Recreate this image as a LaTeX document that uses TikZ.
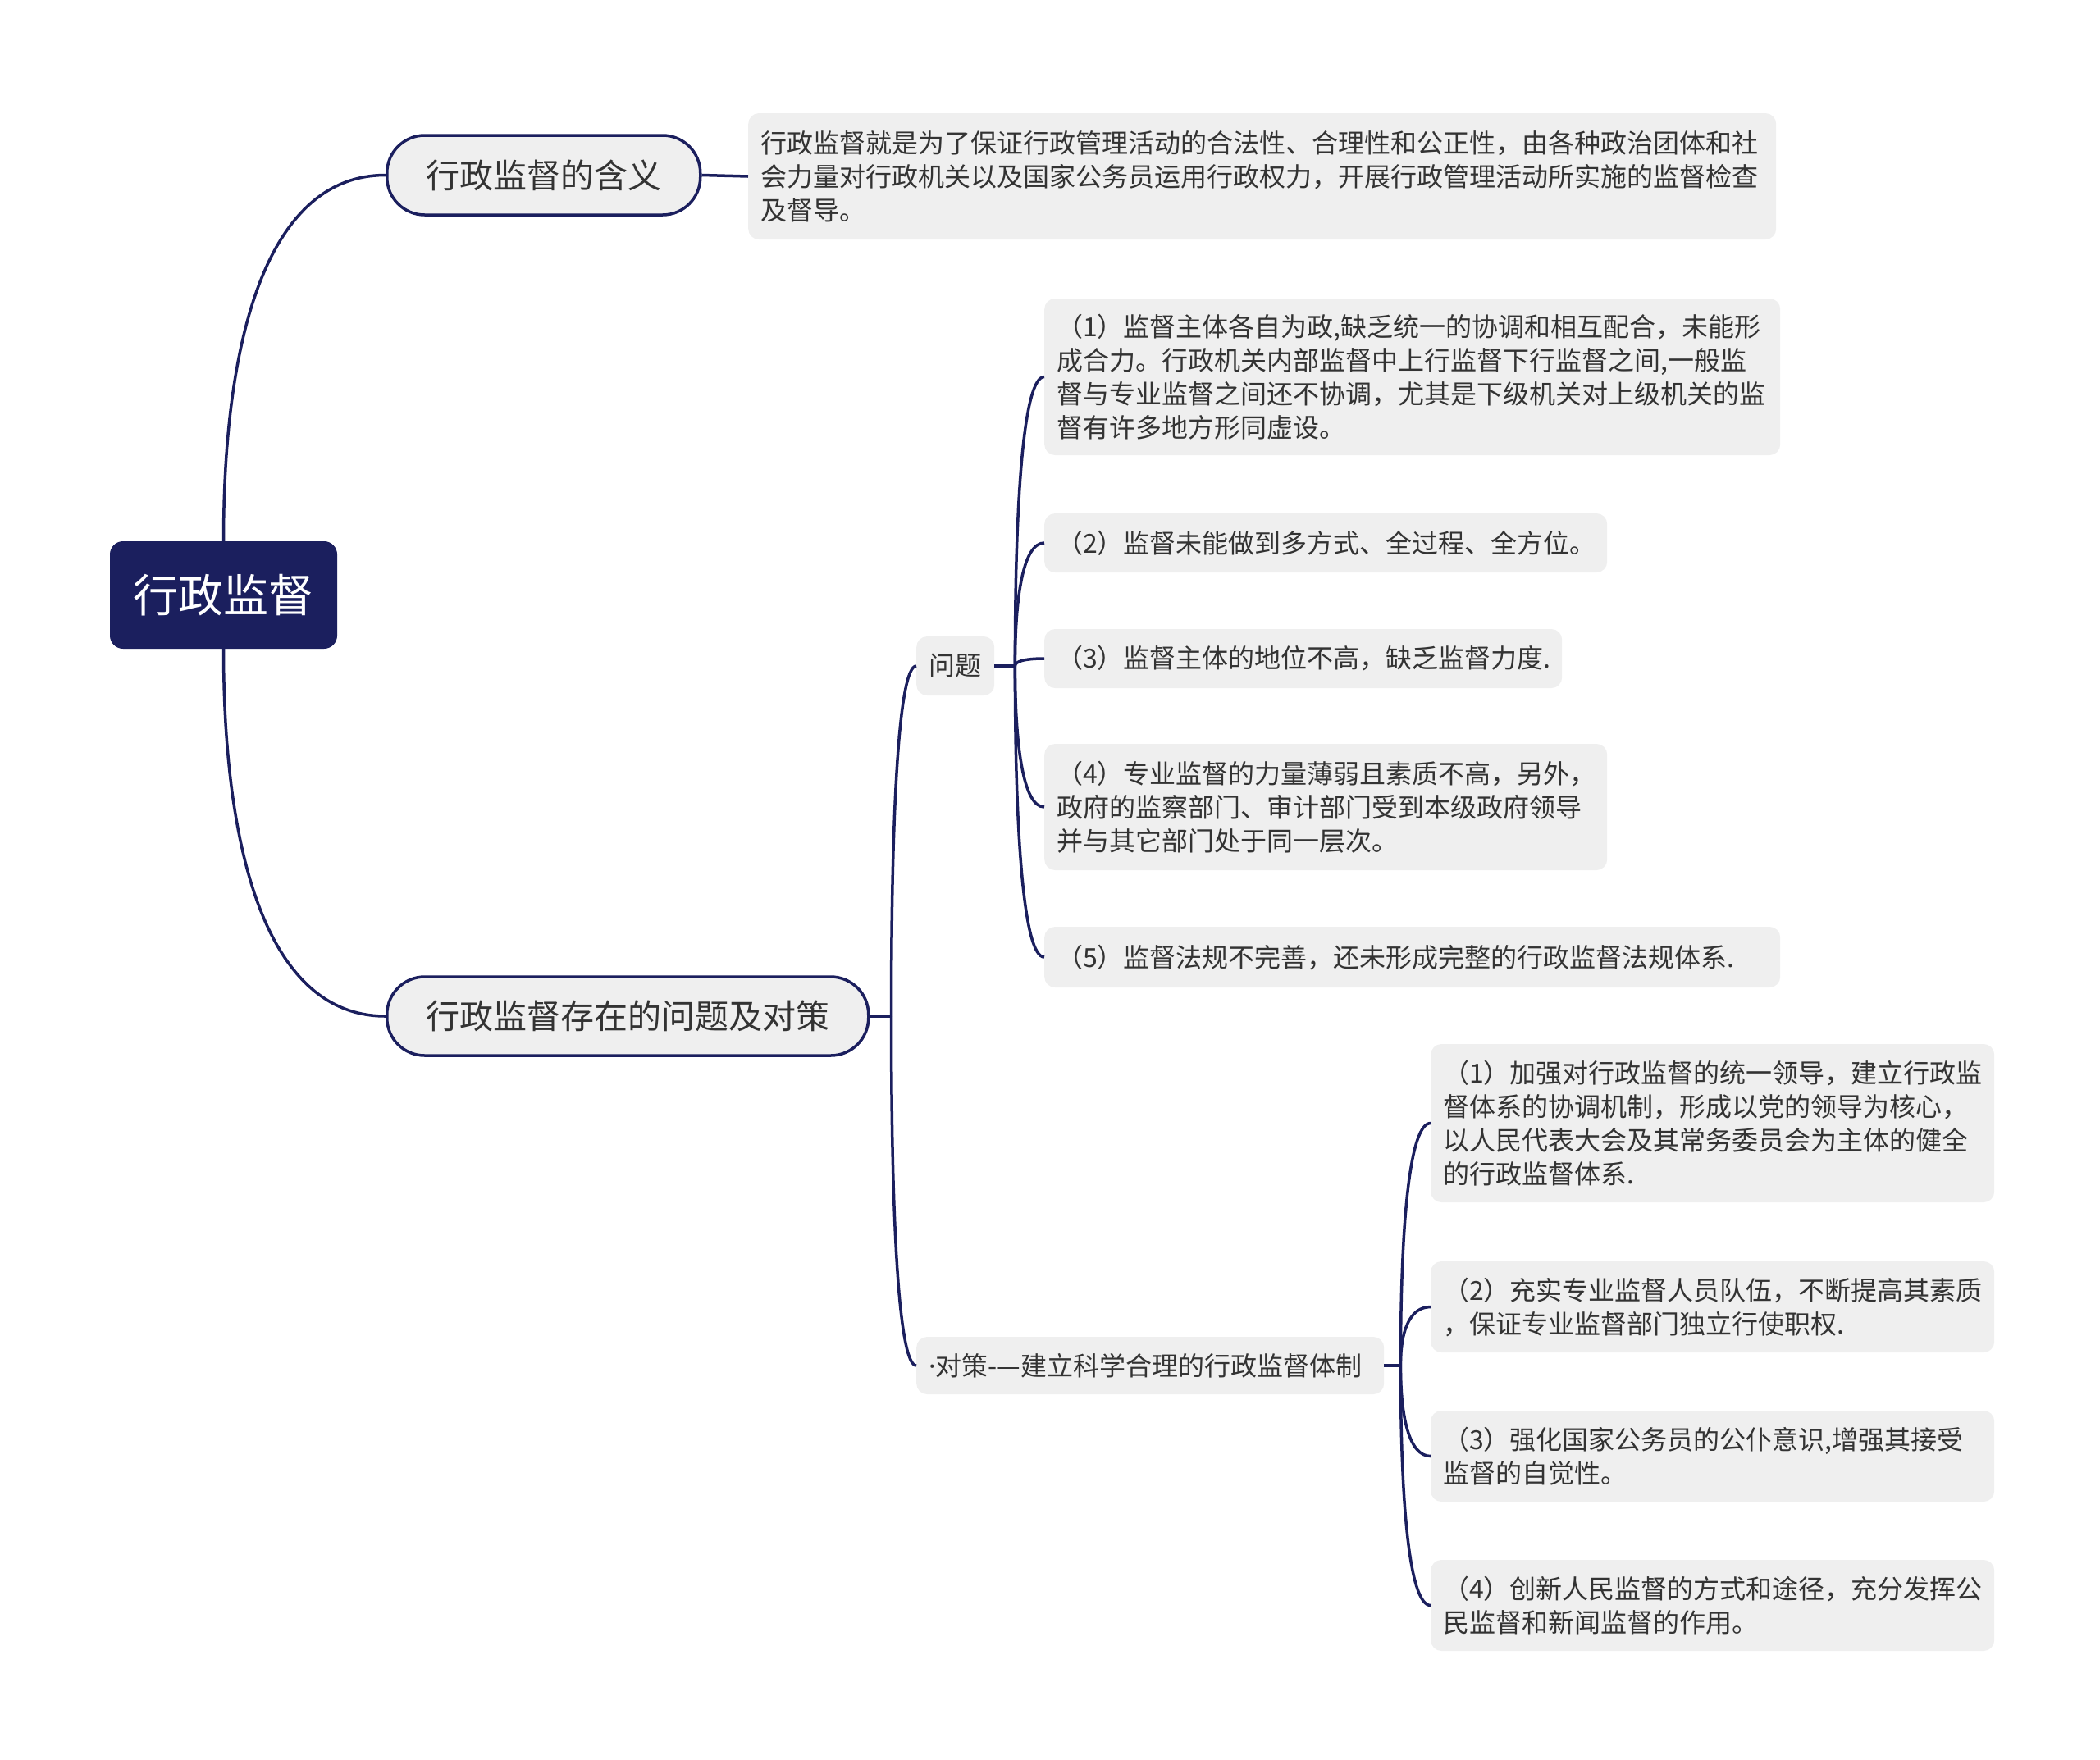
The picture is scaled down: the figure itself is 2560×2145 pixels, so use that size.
\documentclass[tikz,border=0pt]{standalone}
\usepackage{fontspec}
\newfontfamily\cjk{Noto Sans CJK SC}
\newfontfamily\latin{Noto Sans}
\usetikzlibrary{calc}

\definecolor{navy}{RGB}{27,31,94}
\definecolor{boxgray}{RGB}{239,239,239}
\definecolor{ink}{RGB}{51,51,51}

\tikzset{
  link/.style={draw=navy, line width=3.5pt, line join=round},
  branch/.style={to path={.. controls ($(\tikztostart)!0.58!(\tikztostart|-\tikztotarget)$) and ($(\tikztotarget)!0.71!(\tikztotarget-|\tikztostart)$) .. (\tikztotarget)}},
  rootbox/.style={fill=navy, rounded corners=16pt, text=white, font=\cjk\fontsize{55pt}{66pt}\selectfont, minimum width=277pt, minimum height=131pt, inner sep=0pt},
  topic/.style={draw=navy, line width=3.5pt, fill=boxgray, rounded corners=46pt, text=ink, font=\cjk\fontsize{41pt}{50pt}\selectfont, inner sep=0pt, anchor=west},
  leaf/.style={fill=boxgray, rounded corners=13pt, text=ink, font=\cjk\fontsize{32pt}{41pt}\selectfont, align=left, inner xsep=15pt, inner ysep=0pt, anchor=west}
}

\begin{document}
\begin{tikzpicture}[x=1pt, y=-1pt]
        \useasboundingbox (0,0) rectangle (2560,2145);
        \node[rootbox] (root) at (272.5,725.5) {行政监督};
        % meaning
        \node[topic, minimum width=382pt, minimum height=97pt] (mean) at (470,213.5) {行政监督的含义};
        \node[leaf, text width=1223pt, minimum height=154pt] (def) at (912,215) {行政监督就是为了保证行政管理活动的合法性、合理性和公正性，由各种政治团体和社\\会力量对行政机关以及国家公务员运用行政权力，开展行政管理活动所实施的监督检查\\及督导。};
        % problems and measures
        \node[topic, minimum width=587pt, minimum height=96pt] (issue) at (470,1239) {行政监督存在的问题及对策};
        \node[leaf, text width=65pt, minimum height=72pt] (prob) at (1117,812) {问题};
        \node[leaf, text width=867pt, minimum height=191pt] (p1) at (1273,459.5) {（1）监督主体各自为政,缺乏统一的协调和相互配合，未能形\\成合力。行政机关内部监督中上行监督下行监督之间,一般监\\督与专业监督之间还不协调，尤其是下级机关对上级机关的监\\督有许多地方形同虚设。};
        \node[leaf, text width=656pt, minimum height=72pt] (p2) at (1273,662) {（2）监督未能做到多方式、全过程、全方位。};
        \node[leaf, text width=601pt, minimum height=72pt] (p3) at (1273,803) {（3）监督主体的地位不高，缺乏监督力度.};
        \node[leaf, text width=656pt, minimum height=154pt] (p4) at (1273,984) {（4）专业监督的力量薄弱且素质不高，另外，\\政府的监察部门、审计部门受到本级政府领导\\并与其它部门处于同一层次。};
        \node[leaf, text width=867pt, minimum height=74pt] (p5) at (1273,1167) {（5）监督法规不完善，还未形成完整的行政监督法规体系.};
        \node[leaf, text width=540pt, minimum height=70pt] (meas) at (1117,1665) {\mbox{{\latin ·}对策-—建立科学合理的行政监督体制}};
        \node[leaf, text width=657pt, minimum height=193pt] (m1) at (1744,1369.5) {（1）加强对行政监督的统一领导，建立行政监\\督体系的协调机制，形成以党的领导为核心，\\以人民代表大会及其常务委员会为主体的健全\\的行政监督体系.};
        \node[leaf, text width=657pt, minimum height=111pt] (m2) at (1744,1593.5) {（2）充实专业监督人员队伍，不断提高其素质\\，保证专业监督部门独立行使职权.};
        \node[leaf, text width=657pt, minimum height=111pt] (m3) at (1744,1775.5) {（3）强化国家公务员的公仆意识,增强其接受\\监督的自觉性。};
        \node[leaf, text width=657pt, minimum height=111pt] (m4) at (1744,1957.5) {（4）创新人民监督的方式和途径，充分发挥公\\民监督和新闻监督的作用。};

        \coordinate (jb) at ($(issue.east)+(26,0)$);
        \coordinate (jq) at ($(prob.east)+(25,0)$);
        \coordinate (jm) at ($(meas.east)+(20,0)$);

        \path[link]
        (root.north) edge[branch] (mean.west)
        (root.south) edge[branch] (issue.west)
        (mean.east) edge (def.west)
        (issue.east) edge (jb)
        (jb) edge[branch] (prob.west)
        (jb) edge[branch] (meas.west)
        (prob.east) edge (jq)
        (meas.east) edge (jm);
        \foreach \p in {p1,p2,p3,p4,p5}
          \draw[link] (jq) to[branch] (\p.west);
        \foreach \m in {m1,m2,m3,m4}
          \draw[link] (jm) to[branch] (\m.west);
\end{tikzpicture}
\end{document}
